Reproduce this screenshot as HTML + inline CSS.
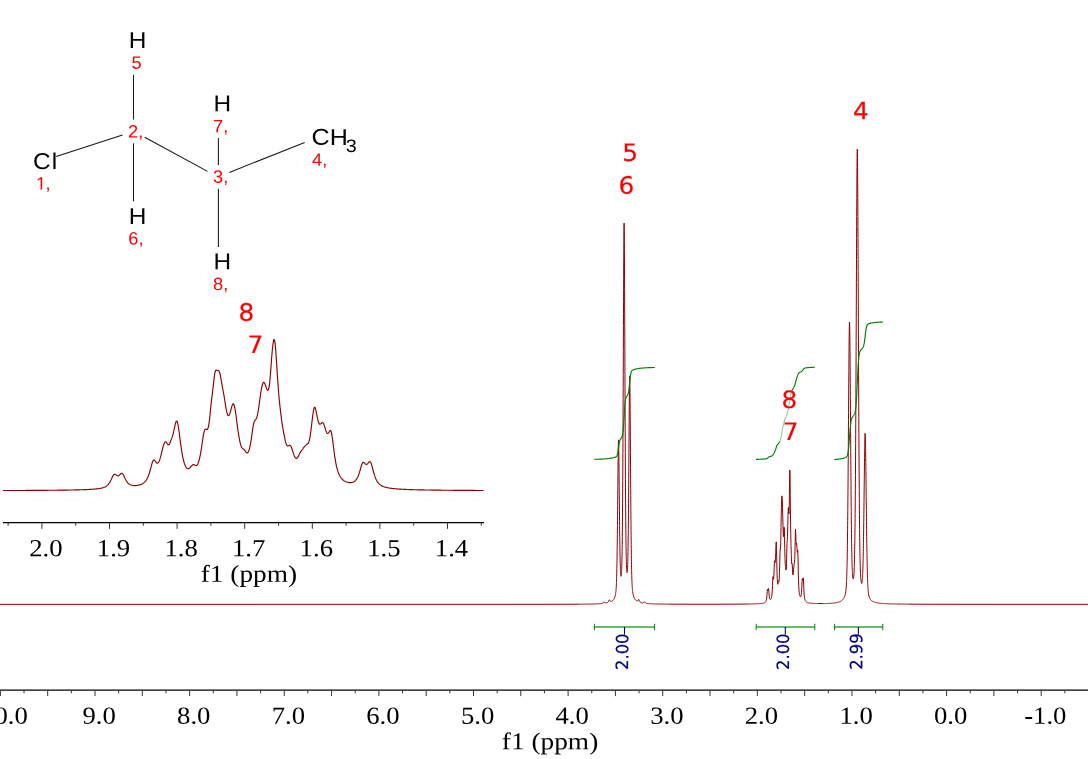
<!DOCTYPE html>
<html lang="en"><head><meta charset="utf-8"><title>1H NMR spectrum - 1-chloropropane</title>
<style>html,body{margin:0;padding:0;background:#fff;overflow:hidden}svg{display:block}text{white-space:pre;text-rendering:geometricPrecision}</style>
</head><body>
<svg width="1088" height="759" viewBox="0 0 1088 759" role="img" aria-label="1H NMR spectrum of 1-chloropropane">
<rect width="1088" height="759" fill="#fff"/>
<g id="structure-bonds" stroke="#161616" stroke-width="1.05" fill="none">
<line x1="56.2" y1="156.4" x2="122.5" y2="134.9"/>
<line x1="133.5" y1="74.8" x2="133.5" y2="119.6"/>
<line x1="133.5" y1="143.3" x2="133.5" y2="201.2"/>
<line x1="144.7" y1="137.2" x2="207.5" y2="171.4"/>
<line x1="218.4" y1="137.9" x2="218.4" y2="165.0"/>
<line x1="218.4" y1="188.7" x2="218.4" y2="247.0"/>
<line x1="229.4" y1="172.4" x2="304.7" y2="142.4"/>
</g>
<g id="inset">
<path d="M3,490.54 3.5,490.54 4,490.54 4.5,490.54 5,490.54 5.5,490.53 6,490.53 6.5,490.53 7,490.53 7.5,490.53 8,490.52 8.5,490.52 9,490.52 9.5,490.52 10,490.52 10.5,490.52 11,490.51 11.5,490.51 12,490.51 12.5,490.51 13,490.5 13.5,490.5 14,490.5 14.5,490.5 15,490.5 15.5,490.49 16,490.49 16.5,490.49 17,490.49 17.5,490.49 18,490.48 18.5,490.48 19,490.48 19.5,490.48 20,490.47 20.5,490.47 21,490.47 21.5,490.47 22,490.46 22.5,490.46 23,490.46 23.5,490.46 24,490.45 24.5,490.45 25,490.45 25.5,490.45 26,490.44 26.5,490.44 27,490.44 27.5,490.44 28,490.43 28.5,490.43 29,490.43 29.5,490.42 30,490.42 30.5,490.42 31,490.42 31.5,490.41 32,490.41 32.5,490.41 33,490.4 33.5,490.4 34,490.4 34.5,490.39 35,490.39 35.5,490.39 36,490.38 36.5,490.38 37,490.38 37.5,490.37 38,490.37 38.5,490.37 39,490.36 39.5,490.36 40,490.36 40.5,490.35 41,490.35 41.5,490.35 42,490.34 42.5,490.34 43,490.33 43.5,490.33 44,490.33 44.5,490.32 45,490.32 45.5,490.31 46,490.31 46.5,490.31 47,490.3 47.5,490.3 48,490.29 48.5,490.29 49,490.28 49.5,490.28 50,490.28 50.5,490.27 51,490.27 51.5,490.26 52,490.26 52.5,490.25 53,490.25 53.5,490.24 54,490.24 54.5,490.23 55,490.23 55.5,490.22 56,490.22 56.5,490.21 57,490.2 57.5,490.2 58,490.19 58.5,490.19 59,490.18 59.5,490.18 60,490.17 60.5,490.16 61,490.16 61.5,490.15 62,490.14 62.5,490.14 63,490.13 63.5,490.12 64,490.12 64.5,490.11 65,490.1 65.5,490.09 66,490.09 66.5,490.08 67,490.07 67.5,490.06 68,490.06 68.5,490.05 69,490.04 69.5,490.03 70,490.02 70.5,490.01 71,490 71.5,489.99 72,489.98 72.5,489.97 73,489.96 73.5,489.95 74,489.94 74.5,489.93 75,489.92 75.5,489.91 76,489.9 76.5,489.89 77,489.88 77.5,489.86 78,489.85 78.5,489.84 79,489.82 79.5,489.81 80,489.8 80.5,489.78 81,489.77 81.5,489.75 82,489.74 82.5,489.72 83,489.7 83.5,489.69 84,489.67 84.5,489.65 85,489.63 85.5,489.61 86,489.59 86.5,489.57 87,489.55 87.5,489.53 88,489.5 88.5,489.48 89,489.45 89.5,489.42 90,489.4 90.5,489.37 91,489.34 91.5,489.31 92,489.27 92.5,489.24 93,489.2 93.5,489.16 94,489.12 94.5,489.08 95,489.04 95.5,488.99 96,488.94 96.5,488.88 97,488.83 97.5,488.77 98,488.7 98.5,488.63 99,488.56 99.5,488.48 100,488.39 100.5,488.29 101,488.19 101.5,488.08 102,487.96 102.5,487.83 103,487.68 103.5,487.52 104,487.33 104.5,487.13 105,486.9 105.5,486.64 106,486.35 106.5,486.01 107,485.63 107.5,485.19 108,484.69 108.5,484.12 109,483.47 109.5,482.73 110,481.9 110.5,480.98 111,479.97 111.5,478.89 112,477.78 112.5,476.71 113,475.74 113.5,474.96 114,474.44 114.5,474.21 115,474.26 115.5,474.51 116,474.87 116.5,475.25 117,475.57 117.5,475.78 118,475.82 118.5,475.7 119,475.42 119.5,475 120,474.5 120.5,473.98 121,473.55 121.5,473.29 122,473.31 122.5,473.63 123,474.26 123.5,475.12 124,476.14 124.5,477.23 125,478.31 125.5,479.33 126,480.27 126.5,481.11 127,481.86 127.5,482.5 128,483.06 128.5,483.54 129,483.94 129.5,484.28 130,484.57 130.5,484.81 131,485.01 131.5,485.17 132,485.3 132.5,485.4 133,485.48 133.5,485.53 134,485.57 134.5,485.59 135,485.59 135.5,485.57 136,485.54 136.5,485.5 137,485.44 137.5,485.37 138,485.28 138.5,485.18 139,485.06 139.5,484.92 140,484.77 140.5,484.6 141,484.4 141.5,484.18 142,483.94 142.5,483.67 143,483.36 143.5,483.01 144,482.63 144.5,482.19 145,481.69 145.5,481.12 146,480.47 146.5,479.73 147,478.89 147.5,477.94 148,476.85 148.5,475.61 149,474.23 149.5,472.68 150,470.98 150.5,469.14 151,467.23 151.5,465.31 152,463.51 152.5,461.97 153,460.82 153.5,460.16 154,460 154.5,460.27 155,460.83 155.5,461.53 156,462.22 156.5,462.77 157,463.12 157.5,463.19 158,462.96 158.5,462.42 159,461.56 159.5,460.38 160,458.91 160.5,457.17 161,455.22 161.5,453.14 162,451.01 162.5,448.94 163,447.02 163.5,445.32 164,443.9 164.5,442.8 165,442.07 165.5,441.78 166,441.93 166.5,442.46 167,443.23 167.5,444.02 168,444.61 168.5,444.85 169,444.62 169.5,443.92 170,442.84 170.5,441.55 171,440.21 171.5,438.91 172,437.63 172.5,436.21 173,434.54 173.5,432.53 174,430.24 174.5,427.79 175,425.38 175.5,423.27 176,421.73 176.5,421 177,421.25 177.5,422.52 178,424.73 178.5,427.72 179,431.23 179.5,435.05 180,438.95 180.5,442.78 181,446.42 181.5,449.8 182,452.88 182.5,455.65 183,458.1 183.5,460.26 184,462.13 184.5,463.73 185,465.09 185.5,466.2 186,467.1 186.5,467.79 187,468.28 187.5,468.58 188,468.69 188.5,468.63 189,468.4 189.5,468.03 190,467.55 190.5,467.01 191,466.45 191.5,465.94 192,465.49 192.5,465.12 193,464.83 193.5,464.66 194,464.67 194.5,464.88 195,465.2 195.5,465.49 196,465.61 196.5,465.49 197,465.09 197.5,464.4 198,463.41 198.5,462.12 199,460.52 199.5,458.6 200,456.36 200.5,453.78 201,450.89 201.5,447.73 202,444.36 202.5,440.91 203,437.57 203.5,434.56 204,432.1 204.5,430.36 205,429.39 205.5,429.1 206,429.25 206.5,429.54 207,429.66 207.5,429.32 208,428.28 208.5,426.36 209,423.46 209.5,419.58 210,414.87 210.5,409.76 211,404.79 211.5,400.33 212,396.31 212.5,392.35 213,388.11 213.5,383.61 214,379.18 214.5,375.31 215,372.43 215.5,370.73 216,370.06 216.5,370.05 217,370.3 217.5,370.49 218,370.57 218.5,370.67 219,371.07 219.5,372.06 220,373.78 220.5,376.17 221,378.99 221.5,381.97 222,384.88 222.5,387.62 223,390.24 223.5,392.87 224,395.66 224.5,398.66 225,401.83 225.5,405.04 226,408.09 226.5,410.78 227,412.97 227.5,414.56 228,415.5 228.5,415.78 229,415.45 229.5,414.55 230,413.19 230.5,411.48 231,409.57 231.5,407.65 232,405.92 232.5,404.6 233,403.87 233.5,403.9 234,404.77 234.5,406.47 235,408.92 235.5,411.99 236,415.49 236.5,419.25 237,423.09 237.5,426.88 238,430.49 238.5,433.87 239,436.95 239.5,439.68 240,442.07 240.5,444.08 241,445.71 241.5,446.97 242,447.87 242.5,448.46 243,448.82 243.5,449.08 244,449.4 244.5,449.9 245,450.59 245.5,451.39 246,452.12 246.5,452.67 247,452.93 247.5,452.84 248,452.38 248.5,451.53 249,450.26 249.5,448.57 250,446.44 250.5,443.87 251,440.89 251.5,437.56 252,434.01 252.5,430.45 253,427.16 253.5,424.42 254,422.4 254.5,421.1 255,420.33 255.5,419.79 256,419.16 256.5,418.19 257,416.73 257.5,414.7 258,412.11 258.5,409.04 259,405.59 259.5,401.93 260,398.24 260.5,394.68 261,391.4 261.5,388.52 262,386.12 262.5,384.26 263,382.99 263.5,382.35 264,382.34 264.5,382.92 265,383.99 265.5,385.39 266,386.93 266.5,388.4 267,389.57 267.5,390.23 268,390.19 268.5,389.27 269,387.28 269.5,384.08 270,379.55 270.5,373.71 271,366.85 271.5,359.76 272,353.43 272.5,348.23 273,344.04 273.5,340.94 274,339.38 274.5,339.86 275,342.6 275.5,347.47 276,353.99 276.5,361.53 277,369.45 277.5,377.23 278,384.5 278.5,391.07 279,396.93 279.5,402.13 280,406.84 280.5,411.21 281,415.34 281.5,419.24 282,422.86 282.5,426.15 283,429.08 283.5,431.78 284,434.39 284.5,436.98 285,439.46 285.5,441.67 286,443.45 286.5,444.74 287,445.54 287.5,445.92 288,445.96 288.5,445.77 289,445.5 289.5,445.29 290,445.31 290.5,445.67 291,446.42 291.5,447.54 292,448.96 292.5,450.55 293,452.19 293.5,453.75 294,455.16 294.5,456.36 295,457.29 295.5,457.95 296,458.32 296.5,458.39 297,458.17 297.5,457.67 298,456.93 298.5,455.99 299,454.92 299.5,453.82 300,452.78 300.5,451.89 301,451.17 301.5,450.58 302,450.03 302.5,449.42 303,448.71 303.5,447.92 304,447.16 304.5,446.53 305,446.04 305.5,445.6 306,445.1 306.5,444.56 307,444.13 307.5,443.87 308,443.56 308.5,442.89 309,441.62 309.5,439.68 310,437.08 310.5,433.85 311,430.11 311.5,425.98 312,421.65 312.5,417.39 313,413.51 313.5,410.33 314,408.16 314.5,407.18 315,407.42 315.5,408.71 316,410.79 316.5,413.31 317,415.96 317.5,418.45 318,420.6 318.5,422.28 319,423.45 319.5,424.09 320,424.27 320.5,424.08 321,423.65 321.5,423.14 322,422.72 322.5,422.57 323,422.81 323.5,423.51 324,424.63 324.5,426.1 325,427.76 325.5,429.45 326,430.99 326.5,432.24 327,433.1 327.5,433.49 328,433.41 328.5,432.91 329,432.1 329.5,431.22 330,430.55 330.5,430.44 331,431.19 331.5,432.94 332,435.65 332.5,439.12 333,443.03 333.5,447.08 334,451.04 334.5,454.76 335,458.16 335.5,461.2 336,463.9 336.5,466.27 337,468.34 337.5,470.15 338,471.72 338.5,473.1 339,474.29 339.5,475.34 340,476.26 340.5,477.07 341,477.79 341.5,478.42 342,478.99 342.5,479.49 343,479.94 343.5,480.34 344,480.7 344.5,481.02 345,481.31 345.5,481.56 346,481.79 346.5,481.99 347,482.16 347.5,482.3 348,482.42 348.5,482.52 349,482.59 349.5,482.64 350,482.66 350.5,482.66 351,482.62 351.5,482.56 352,482.46 352.5,482.33 353,482.16 353.5,481.94 354,481.67 354.5,481.33 355,480.93 355.5,480.45 356,479.88 356.5,479.2 357,478.41 357.5,477.48 358,476.41 358.5,475.18 359,473.79 359.5,472.24 360,470.56 360.5,468.8 361,467.03 361.5,465.38 362,463.98 362.5,462.96 363,462.4 363.5,462.29 364,462.56 364.5,463.04 365,463.59 365.5,464.06 366,464.36 366.5,464.43 367,464.24 367.5,463.82 368,463.24 368.5,462.58 369,461.99 369.5,461.63 370,461.63 370.5,462.1 371,463.04 371.5,464.42 372,466.11 372.5,467.98 373,469.9 373.5,471.77 374,473.54 374.5,475.17 375,476.65 375.5,477.97 376,479.14 376.5,480.17 377,481.08 377.5,481.87 378,482.57 378.5,483.19 379,483.73 379.5,484.2 380,484.63 380.5,485 381,485.34 381.5,485.63 382,485.9 382.5,486.15 383,486.37 383.5,486.57 384,486.76 384.5,486.93 385,487.08 385.5,487.23 386,487.36 386.5,487.49 387,487.6 387.5,487.71 388,487.81 388.5,487.91 389,487.99 389.5,488.08 390,488.16 390.5,488.23 391,488.3 391.5,488.37 392,488.43 392.5,488.49 393,488.55 393.5,488.6 394,488.66 394.5,488.71 395,488.75 395.5,488.8 396,488.84 396.5,488.88 397,488.92 397.5,488.96 398,489 398.5,489.03 399,489.07 399.5,489.1 400,489.13 400.5,489.16 401,489.19 401.5,489.22 402,489.25 402.5,489.27 403,489.3 403.5,489.32 404,489.35 404.5,489.37 405,489.4 405.5,489.42 406,489.44 406.5,489.46 407,489.48 407.5,489.5 408,489.52 408.5,489.54 409,489.55 409.5,489.57 410,489.59 410.5,489.61 411,489.62 411.5,489.64 412,489.65 412.5,489.67 413,489.68 413.5,489.7 414,489.71 414.5,489.73 415,489.74 415.5,489.75 416,489.77 416.5,489.78 417,489.79 417.5,489.8 418,489.82 418.5,489.83 419,489.84 419.5,489.85 420,489.86 420.5,489.87 421,489.88 421.5,489.89 422,489.9 422.5,489.91 423,489.92 423.5,489.93 424,489.94 424.5,489.95 425,489.96 425.5,489.97 426,489.98 426.5,489.99 427,489.99 427.5,490 428,490.01 428.5,490.02 429,490.03 429.5,490.04 430,490.04 430.5,490.05 431,490.06 431.5,490.07 432,490.07 432.5,490.08 433,490.09 433.5,490.09 434,490.1 434.5,490.11 435,490.11 435.5,490.12 436,490.13 436.5,490.13 437,490.14 437.5,490.14 438,490.15 438.5,490.16 439,490.16 439.5,490.17 440,490.17 440.5,490.18 441,490.19 441.5,490.19 442,490.2 442.5,490.2 443,490.21 443.5,490.21 444,490.22 444.5,490.22 445,490.23 445.5,490.23 446,490.24 446.5,490.24 447,490.25 447.5,490.25 448,490.26 448.5,490.26 449,490.27 449.5,490.27 450,490.27 450.5,490.28 451,490.28 451.5,490.29 452,490.29 452.5,490.3 453,490.3 453.5,490.3 454,490.31 454.5,490.31 455,490.32 455.5,490.32 456,490.32 456.5,490.33 457,490.33 457.5,490.33 458,490.34 458.5,490.34 459,490.35 459.5,490.35 460,490.35 460.5,490.36 461,490.36 461.5,490.36 462,490.37 462.5,490.37 463,490.37 463.5,490.38 464,490.38 464.5,490.38 465,490.39 465.5,490.39 466,490.39 466.5,490.39 467,490.4 467.5,490.4 468,490.4 468.5,490.41 469,490.41 469.5,490.41 470,490.42 470.5,490.42 471,490.42 471.5,490.42 472,490.43 472.5,490.43 473,490.43 473.5,490.43 474,490.44 474.5,490.44 475,490.44 475.5,490.45 476,490.45 476.5,490.45 477,490.45 477.5,490.46 478,490.46 478.5,490.46 479,490.46 479.5,490.47 480,490.47 480.5,490.47 481,490.47 481.5,490.47 482,490.48 482.5,490.48 483,490.48 483.5,490.48" fill="none" stroke="#8b0000" stroke-width="1.15" stroke-linejoin="round"/>
<line x1="2.9" y1="522.5" x2="484" y2="522.5" stroke="#000" stroke-width="1.25"/>
<path d="M8.10,522.5v3.2M41.90,522.5v6.3M75.70,522.5v3.2M109.50,522.5v6.3M143.30,522.5v3.2M177.10,522.5v6.3M210.90,522.5v3.2M244.70,522.5v6.3M278.50,522.5v3.2M312.30,522.5v6.3M346.10,522.5v3.2M379.90,522.5v6.3M413.70,522.5v3.2M447.50,522.5v6.3M481.30,522.5v3.2" stroke="#333" stroke-width="1" fill="none"/>
</g>
<g id="spectrum">
<path d="M0,604.35 8,604.35 16,604.35 24,604.35 32,604.35 40,604.35 48,604.35 56,604.35 64,604.35 72,604.35 80,604.35 88,604.35 96,604.35 104,604.35 112,604.35 120,604.35 128,604.35 136,604.35 144,604.35 152,604.35 160,604.35 168,604.35 176,604.35 184,604.35 192,604.35 200,604.35 208,604.35 216,604.35 224,604.35 232,604.35 240,604.35 248,604.35 256,604.34 264,604.34 272,604.34 280,604.34 288,604.34 296,604.34 304,604.34 312,604.34 320,604.34 328,604.34 336,604.34 344,604.34 352,604.34 360,604.34 368,604.34 376,604.34 384,604.34 392,604.34 400,604.34 408,604.34 416,604.34 424,604.34 432,604.34 440,604.33 448,604.33 456,604.33 464,604.33 472,604.33 480,604.33 488,604.32 496,604.32 504,604.32 512,604.31 520,604.31 528,604.3 536,604.3 544,604.29 552,604.27 560,604.26 568,604.23 576,604.19 579.5,604.16 580,604.16 580.5,604.16 581,604.15 581.5,604.15 582,604.14 582.5,604.14 583,604.13 583.5,604.13 584,604.12 584.5,604.12 585,604.11 585.5,604.1 586,604.1 586.5,604.09 587,604.08 587.5,604.08 588,604.07 588.5,604.06 589,604.05 589.5,604.04 590,604.04 590.5,604.03 591,604.02 591.5,604.01 592,603.99 592.5,603.98 593,603.97 593.5,603.96 594,603.94 594.5,603.93 595,603.91 595.25,603.91 595.5,603.9 595.75,603.89 596,603.88 596.25,603.87 596.5,603.86 596.75,603.85 597,603.84 597.25,603.83 597.5,603.82 597.75,603.81 598,603.79 598.25,603.78 598.5,603.77 598.75,603.75 599,603.74 599.25,603.72 599.5,603.71 599.75,603.69 600,603.67 600.25,603.65 600.5,603.62 600.75,603.6 601,603.57 601.25,603.54 601.5,603.5 601.75,603.45 602,603.39 602.25,603.32 602.5,603.22 602.75,603.09 603,602.9 603.25,602.62 603.5,602.24 603.75,601.89 604,601.83 604.25,602.09 604.5,602.41 604.75,602.65 605,602.8 605.25,602.89 605.5,602.93 605.75,602.94 606,602.93 606.25,602.9 606.5,602.86 606.75,602.81 607,602.74 607.25,602.65 607.5,602.54 607.75,602.39 608,602.18 608.25,601.9 608.5,601.49 608.75,600.92 609,600.22 609.25,599.73 609.5,599.85 609.75,600.38 610,600.88 610.25,601.2 610.5,601.37 610.75,601.45 611,601.45 611.25,601.41 611.5,601.33 611.75,601.23 612,601.09 612.25,600.94 612.5,600.75 612.75,600.55 613,600.31 613.25,600.04 613.5,599.73 613.75,599.38 614,598.97 614.25,598.51 614.5,597.97 614.75,597.33 615,596.57 615.25,595.64 615.5,594.45 615.55,594.16 615.6,593.86 615.65,593.54 615.7,593.2 615.75,592.83 615.8,592.44 615.85,592.01 615.9,591.55 615.95,591.04 616,590.5 616.05,589.91 616.1,589.26 616.15,588.56 616.2,587.79 616.25,586.95 616.3,586.03 616.35,585.03 616.4,583.93 616.45,582.73 616.5,581.42 616.55,579.99 616.6,578.44 616.65,576.75 616.7,574.91 616.75,572.91 616.8,570.76 616.85,568.43 616.9,565.93 616.95,563.24 617,560.35 617.05,557.27 617.1,554 617.15,550.52 617.2,546.83 617.25,542.95 617.3,538.86 617.35,534.58 617.4,530.12 617.45,525.48 617.5,520.68 617.55,515.72 617.6,510.64 617.65,505.46 617.7,500.19 617.75,494.87 617.8,489.53 617.85,484.21 617.9,478.96 617.95,473.81 618,468.82 618.05,464.04 618.1,459.53 618.15,455.35 618.2,451.56 618.25,448.21 618.3,445.37 618.35,443.08 618.4,441.39 618.45,440.32 618.5,439.9 618.55,440.13 618.6,441.01 618.65,442.51 618.7,444.61 618.75,447.26 618.8,450.41 618.85,454.01 618.9,457.99 618.95,462.31 619,466.89 619.05,471.68 619.1,476.63 619.15,481.68 619.2,486.79 619.25,491.92 619.3,497.03 619.35,502.09 619.4,507.06 619.45,511.92 619.5,516.65 619.55,521.23 619.6,525.64 619.65,529.87 619.7,533.91 619.75,537.75 619.8,541.39 619.85,544.82 619.9,548.04 619.95,551.05 620,553.86 620.05,556.47 620.1,558.87 620.15,561.09 620.2,563.12 620.25,564.96 620.3,566.64 620.35,568.15 620.4,569.51 620.45,570.72 620.5,571.79 620.55,572.72 620.6,573.54 620.65,574.24 620.7,574.83 620.75,575.31 620.8,575.7 620.85,576 620.9,576.21 620.95,576.33 621,576.38 621.05,576.35 621.1,576.24 621.15,576.05 621.2,575.79 621.25,575.44 621.3,575.02 621.35,574.52 621.4,573.93 621.45,573.24 621.5,572.46 621.55,571.57 621.6,570.56 621.65,569.43 621.7,568.16 621.75,566.74 621.8,565.16 621.85,563.4 621.9,561.45 621.95,559.29 622,556.91 622.05,554.27 622.1,551.37 622.15,548.19 622.2,544.7 622.25,540.88 622.3,536.71 622.35,532.17 622.4,527.24 622.45,521.91 622.5,516.15 622.55,509.94 622.6,503.29 622.65,496.16 622.7,488.56 622.75,480.48 622.8,471.91 622.85,462.87 622.9,453.35 622.95,443.38 623,432.96 623.05,422.12 623.1,410.9 623.15,399.33 623.2,387.45 623.25,375.32 623.3,363 623.35,350.55 623.4,338.07 623.45,325.63 623.5,313.34 623.55,301.31 623.6,289.65 623.65,278.5 623.7,267.99 623.75,258.26 623.8,249.45 623.85,241.71 623.9,235.17 623.95,229.94 624,226.12 624.05,223.79 624.1,223 624.15,223.76 624.2,226.06 624.25,229.85 624.3,235.05 624.35,241.56 624.4,249.27 624.45,258.04 624.5,267.74 624.55,278.22 624.6,289.34 624.65,300.97 624.7,312.97 624.75,325.23 624.8,337.63 624.85,350.09 624.9,362.5 624.95,374.78 625,386.88 625.05,398.72 625.1,410.26 625.15,421.45 625.2,432.24 625.25,442.63 625.3,452.56 625.35,462.04 625.4,471.04 625.45,479.57 625.5,487.61 625.55,495.17 625.6,502.25 625.65,508.86 625.7,515.02 625.75,520.73 625.8,526.02 625.85,530.89 625.9,535.38 625.95,539.5 626,543.26 626.05,546.7 626.1,549.82 626.15,552.66 626.2,555.23 626.25,557.55 626.3,559.65 626.35,561.52 626.4,563.21 626.45,564.71 626.5,566.05 626.55,567.23 626.6,568.27 626.65,569.18 626.7,569.97 626.75,570.65 626.8,571.22 626.85,571.69 626.9,572.06 626.95,572.34 627,572.53 627.05,572.63 627.1,572.64 627.15,572.55 627.2,572.38 627.25,572.1 627.3,571.72 627.35,571.24 627.4,570.64 627.45,569.92 627.5,569.08 627.55,568.09 627.6,566.96 627.65,565.67 627.7,564.22 627.75,562.58 627.8,560.75 627.85,558.73 627.9,556.48 627.95,554.01 628,551.31 628.05,548.35 628.1,545.14 628.15,541.66 628.2,537.9 628.25,533.86 628.3,529.54 628.35,524.92 628.4,520.02 628.45,514.83 628.5,509.35 628.55,503.6 628.6,497.58 628.65,491.31 628.7,484.81 628.75,478.09 628.8,471.2 628.85,464.15 628.9,456.98 628.95,449.74 629,442.47 629.05,435.23 629.1,428.08 629.15,421.07 629.2,414.28 629.25,407.79 629.3,401.68 629.35,396.03 629.4,390.93 629.45,386.46 629.5,382.69 629.55,379.7 629.6,377.54 629.65,376.27 629.7,375.9 629.75,376.45 629.8,377.91 629.85,380.26 629.9,383.44 629.95,387.39 630,392.06 630.05,397.35 630.1,403.19 630.15,409.49 630.2,416.17 630.25,423.15 630.3,430.36 630.35,437.71 630.4,445.16 630.45,452.63 630.5,460.07 630.55,467.45 630.6,474.71 630.65,481.82 630.7,488.75 630.75,495.47 630.8,501.97 630.85,508.22 630.9,514.2 630.95,519.92 631,525.36 631.05,530.51 631.1,535.38 631.15,539.96 631.2,544.27 631.25,548.3 631.3,552.06 631.35,555.56 631.4,558.81 631.45,561.82 631.5,564.6 631.55,567.16 631.6,569.52 631.65,571.69 631.7,573.68 631.75,575.5 631.8,577.17 631.85,578.7 631.9,580.09 631.95,581.36 632,582.53 632.05,583.59 632.1,584.57 632.15,585.46 632.2,586.27 632.25,587.02 632.3,587.71 632.35,588.35 632.4,588.94 632.45,589.48 632.5,589.98 632.55,590.45 632.6,590.89 632.65,591.3 632.7,591.68 632.75,592.04 633,593.57 633.25,594.77 633.5,595.75 633.75,596.57 634,597.27 634.25,597.86 634.5,598.38 634.75,598.82 635,599.21 635.25,599.55 635.5,599.85 635.75,600.11 636,600.34 636.25,600.53 636.5,600.69 636.75,600.82 637,600.91 637.25,600.94 637.5,600.9 637.75,600.76 638,600.47 638.25,600 638.5,599.49 638.75,599.39 639,599.9 639.25,600.62 639.5,601.21 639.75,601.64 640,601.94 640.25,602.15 640.5,602.32 640.75,602.44 641,602.55 641.25,602.63 641.5,602.7 641.75,602.76 642,602.8 642.25,602.83 642.5,602.85 642.75,602.85 643,602.83 643.25,602.78 643.5,602.68 643.75,602.49 644,602.21 644.25,601.89 644.5,601.74 644.75,601.95 645,602.33 645.25,602.67 645.5,602.92 645.75,603.09 646,603.21 646.25,603.29 646.5,603.36 646.75,603.41 647,603.46 647.25,603.49 647.5,603.53 647.75,603.56 648,603.58 648.25,603.61 648.5,603.63 648.75,603.65 649,603.67 649.25,603.68 649.5,603.7 649.75,603.71 650,603.73 650.25,603.74 650.5,603.76 650.75,603.77 651,603.78 651.25,603.79 651.5,603.81 651.75,603.82 652,603.83 652.25,603.84 652.5,603.85 652.75,603.86 653,603.86 653.25,603.87 653.5,603.88 653.75,603.89 654,603.9 654.25,603.91 654.5,603.91 654.75,603.92 655,603.93 655.5,603.94 656,603.95 656.5,603.97 657,603.98 657.5,603.99 658,604 658.5,604.01 659,604.02 659.5,604.03 660,604.03 660.5,604.04 661,604.05 661.5,604.06 662,604.06 662.5,604.07 663,604.08 663.5,604.08 664,604.09 664.5,604.09 665,604.1 665.5,604.11 666,604.11 666.5,604.11 667,604.12 667.5,604.12 668,604.13 668.5,604.13 672,604.16 680,604.19 688,604.21 696,604.22 704,604.23 712,604.22 720,604.21 728,604.19 736,604.15 744,604.09 748.5,604.03 748.75,604.02 749,604.02 749.25,604.02 749.5,604.01 749.75,604.01 750,604 750.25,604 750.5,603.99 750.75,603.99 751,603.98 751.25,603.98 751.5,603.97 751.75,603.97 752,603.96 752.25,603.95 752.5,603.95 752.75,603.94 753,603.94 753.25,603.93 753.5,603.92 753.75,603.92 754,603.91 754.25,603.9 754.5,603.89 754.75,603.88 755,603.88 755.25,603.87 755.5,603.86 755.75,603.85 756,603.84 756.25,603.83 756.5,603.82 756.75,603.81 757,603.8 757.25,603.78 757.5,603.77 757.75,603.76 758,603.75 758.25,603.73 758.5,603.72 758.75,603.7 759,603.69 759.25,603.67 759.5,603.65 759.75,603.63 760,603.61 760.25,603.59 760.5,603.57 760.75,603.54 761,603.52 761.25,603.49 761.5,603.46 761.75,603.43 762,603.39 762.25,603.36 762.5,603.32 762.75,603.27 763,603.22 763.25,603.17 763.5,603.1 763.75,603.03 764,602.95 764.25,602.86 764.5,602.75 764.75,602.61 765,602.45 765.25,602.25 765.5,601.99 765.75,601.64 766,601.15 766.25,600.42 766.5,599.28 766.75,597.45 767,594.63 767.25,591.18 767.5,589.31 767.75,590.09 768,590.75 768.25,589.71 768.5,588.46 768.75,589.98 769,593.36 769.25,596.14 769.5,597.87 769.75,598.83 770,599.31 770.25,599.49 770.5,599.47 770.75,599.27 771,598.91 771.25,598.33 771.5,597.47 771.75,596.14 772,594.06 772.25,590.74 772.5,585.72 772.75,579.72 773,576.57 773.25,578.02 773.5,579.42 773.75,577.69 774,572.54 774.25,565.89 774.5,561.13 774.75,560.59 775,562.81 775.25,561.48 775.5,557.32 775.75,552.2 776,544.65 776.25,541.81 776.5,549.36 776.75,561.59 777,571.97 777.25,578.9 777.5,582.82 777.75,584.3 778,583.75 778.25,582.06 778.5,580.85 778.75,581.13 779,581.39 779.25,578.62 779.5,572.3 779.75,562.49 780,552.37 780.25,548.84 780.5,549.17 780.75,542.83 781,527.59 781.25,514.24 781.5,500.56 781.75,495.85 782,496.36 782.25,498.76 782.5,507.38 782.75,516.06 783,525.68 783.25,534.41 783.5,536.78 783.75,532.76 784,527.13 784.25,527.41 784.5,536.24 784.75,548.33 785,558.38 785.25,564.43 785.5,566.55 785.75,567.92 786,570.06 786.25,569.03 786.5,563.36 786.75,553.12 787,543.45 787.25,540.39 787.5,536.41 787.75,526.71 788,515.32 788.25,508.01 788.5,507.44 788.75,511.83 789,513.84 789.25,505.51 789.5,484.69 789.75,469.99 790,473.09 790.25,495.63 790.5,518.01 790.75,533.48 791,545.48 791.25,554.32 791.5,561.54 791.75,563.94 792,563.32 792.25,564.92 792.5,569.78 792.75,573.9 793,575.02 793.25,572.99 793.5,569.63 793.75,567.53 794,565.23 794.25,563.5 794.5,562.09 794.75,559.5 795,550 795.25,536.54 795.5,529.12 795.75,533.77 796,541.51 796.25,544.46 796.5,543.29 796.75,543.7 797,548.33 797.25,552.4 797.5,551.76 797.75,550.05 798,557.03 798.25,569.65 798.5,579.8 798.75,586.3 799,590.29 799.25,592.8 799.5,594.43 799.75,595.53 800,596.24 800.25,596.66 800.5,596.79 800.75,596.6 801,595.98 801.25,594.7 801.5,592.32 801.75,588.34 802,582.86 802.25,578.8 802.5,579.22 802.75,580.43 803,579.23 803.25,577.88 803.5,580.95 803.75,586.91 804,592 804.25,595.41 804.5,597.56 804.75,598.93 805,599.84 805.25,600.48 805.5,600.96 805.75,601.32 806,601.61 806.25,601.85 806.5,602.04 806.75,602.2 807,602.33 807.25,602.45 807.5,602.55 807.75,602.64 808,602.72 808.25,602.79 808.5,602.85 808.75,602.91 809,602.96 809.25,603.01 809.5,603.05 809.75,603.09 810,603.13 810.25,603.16 810.5,603.19 810.75,603.22 811,603.25 811.25,603.27 811.5,603.3 811.75,603.32 812,603.34 812.25,603.36 812.5,603.37 812.75,603.39 813,603.41 813.25,603.42 813.5,603.44 813.75,603.45 814,603.46 814.25,603.47 814.5,603.48 814.75,603.49 815,603.5 815.25,603.51 815.5,603.52 815.75,603.53 816,603.53 816.25,603.54 816.5,603.54 816.75,603.55 817,603.56 817.25,603.56 817.5,603.56 823.5,603.56 823.75,603.56 824,603.55 824.25,603.55 824.5,603.55 824.75,603.54 825,603.53 825.25,603.53 825.5,603.52 825.75,603.51 826,603.51 826.25,603.5 826.5,603.49 826.75,603.48 827,603.48 827.25,603.47 827.5,603.46 827.75,603.45 828,603.44 828.25,603.43 828.5,603.41 828.75,603.4 829,603.39 829.25,603.38 829.5,603.36 829.75,603.35 830,603.33 830.25,603.32 830.5,603.3 830.75,603.29 831,603.27 831.25,603.25 831.5,603.23 831.75,603.21 832,603.19 832.25,603.17 832.5,603.15 832.75,603.12 833,603.1 833.25,603.07 833.5,603.04 833.75,603.02 834,602.99 834.25,602.96 834.5,602.92 834.75,602.89 835,602.85 835.25,602.82 835.5,602.78 835.75,602.74 836,602.69 836.25,602.65 836.5,602.6 836.75,602.55 837,602.5 837.25,602.44 837.5,602.38 837.75,602.32 838,602.26 838.25,602.19 838.5,602.11 838.75,602.03 839,601.95 839.25,601.86 839.5,601.76 839.75,601.66 840,601.55 840.25,601.44 840.5,601.31 840.75,601.18 841,601.03 841.25,600.87 841.5,600.7 841.75,600.52 842,600.32 842.25,600.1 842.5,599.86 842.75,599.59 843,599.3 843.25,598.98 843.5,598.62 843.75,598.22 844,597.77 844.25,597.27 844.5,596.69 844.75,596.03 845,595.26 845.25,594.34 845.5,593.2 845.75,591.72 846,589.71 846.25,586.86 846.5,582.72 846.55,581.68 846.6,580.56 846.65,579.35 846.7,578.04 846.75,576.63 846.8,575.11 846.85,573.47 846.9,571.71 846.95,569.81 847,567.78 847.05,565.59 847.1,563.25 847.15,560.75 847.2,558.07 847.25,555.22 847.3,552.18 847.35,548.95 847.4,545.53 847.45,541.89 847.5,538.05 847.55,534 847.6,529.74 847.65,525.25 847.7,520.54 847.75,515.62 847.8,510.47 847.85,505.11 847.9,499.54 847.95,493.76 848,487.77 848.05,481.6 848.1,475.24 848.15,468.71 848.2,462.03 848.25,455.2 848.3,448.24 848.35,441.19 848.4,434.04 848.45,426.84 848.5,419.61 848.55,412.36 848.6,405.14 848.65,397.97 848.7,390.9 848.75,383.94 848.8,377.15 848.85,370.57 848.9,364.22 848.95,358.17 849,352.44 849.05,347.08 849.1,342.15 849.15,337.66 849.2,333.68 849.25,330.23 849.3,327.35 849.35,325.07 849.4,323.4 849.45,322.38 849.5,322 849.55,322.27 849.6,323.19 849.65,324.75 849.7,326.93 849.75,329.71 849.8,333.05 849.85,336.93 849.9,341.3 849.95,346.13 850,351.38 850.05,357 850.1,362.95 850.15,369.19 850.2,375.66 850.25,382.34 850.3,389.19 850.35,396.15 850.4,403.21 850.45,410.31 850.5,417.44 850.55,424.57 850.6,431.65 850.65,438.68 850.7,445.62 850.75,452.45 850.8,459.16 850.85,465.72 850.9,472.13 850.95,478.36 851,484.41 851.05,490.26 851.1,495.91 851.15,501.36 851.2,506.58 851.25,511.59 851.3,516.38 851.35,520.95 851.4,525.29 851.45,529.41 851.5,533.32 851.55,537.01 851.6,540.49 851.65,543.76 851.7,546.84 851.75,549.71 851.8,552.4 851.85,554.91 851.9,557.24 851.95,559.41 852,561.42 852.05,563.27 852.1,564.99 852.15,566.56 852.2,568 852.25,569.33 852.3,570.54 852.35,571.64 852.4,572.63 852.45,573.54 852.5,574.35 852.75,577.27 853,578.68 853.25,578.93 853.5,578.15 853.75,576.27 854,572.94 854.25,567.53 854.3,566.12 854.35,564.59 854.4,562.91 854.45,561.09 854.5,559.1 854.55,556.95 854.6,554.61 854.65,552.08 854.7,549.35 854.75,546.4 854.8,543.21 854.85,539.79 854.9,536.11 854.95,532.16 855,527.93 855.05,523.42 855.1,518.59 855.15,513.46 855.2,508 855.25,502.21 855.3,496.08 855.35,489.61 855.4,482.78 855.45,475.6 855.5,468.06 855.55,460.16 855.6,451.91 855.65,443.3 855.7,434.34 855.75,425.05 855.8,415.43 855.85,405.5 855.9,395.27 855.95,384.76 856,373.99 856.05,363 856.1,351.8 856.15,340.43 856.2,328.92 856.25,317.32 856.3,305.66 856.35,293.98 856.4,282.35 856.45,270.8 856.5,259.4 856.55,248.2 856.6,237.26 856.65,226.65 856.7,216.44 856.75,206.7 856.8,197.49 856.85,188.88 856.9,180.96 856.95,173.77 857,167.4 857.05,161.89 857.1,157.31 857.15,153.69 857.2,151.09 857.25,149.52 857.3,149 857.35,149.54 857.4,151.14 857.45,153.77 857.5,157.41 857.55,162.02 857.6,167.55 857.65,173.95 857.7,181.16 857.75,189.12 857.8,197.75 857.85,206.98 857.9,216.75 857.95,226.99 858,237.62 858.05,248.59 858.1,259.81 858.15,271.25 858.2,282.82 858.25,294.48 858.3,306.19 858.35,317.87 858.4,329.51 858.45,341.04 858.5,352.44 858.55,363.67 858.6,374.7 858.65,385.49 858.7,396.03 858.75,406.29 858.8,416.26 858.85,425.91 858.9,435.23 858.95,444.22 859,452.86 859.05,461.15 859.1,469.08 859.15,476.66 859.2,483.87 859.25,490.74 859.3,497.25 859.35,503.41 859.4,509.24 859.45,514.74 859.5,519.91 859.55,524.77 859.6,529.33 859.65,533.6 859.7,537.59 859.75,541.31 859.8,544.78 859.85,548.01 859.9,551.01 859.95,553.79 860,556.37 860.05,558.75 860.1,560.96 860.15,562.99 860.2,564.87 860.25,566.6 860.3,568.2 860.5,573.39 860.75,577.81 861,580.65 861.25,582.4 861.5,583.32 861.75,583.48 862,582.78 862.15,581.86 862.2,581.45 862.25,580.98 862.3,580.46 862.35,579.87 862.4,579.22 862.45,578.49 862.5,577.7 862.55,576.82 862.6,575.86 862.65,574.81 862.7,573.66 862.75,572.42 862.8,571.08 862.85,569.64 862.9,568.08 862.95,566.41 863,564.62 863.05,562.71 863.1,560.67 863.15,558.51 863.2,556.22 863.25,553.79 863.3,551.24 863.35,548.55 863.4,545.72 863.45,542.76 863.5,539.67 863.55,536.45 863.6,533.1 863.65,529.64 863.7,526.05 863.75,522.35 863.8,518.55 863.85,514.65 863.9,510.67 863.95,506.61 864,502.49 864.05,498.31 864.1,494.1 864.15,489.86 864.2,485.62 864.25,481.39 864.3,477.2 864.35,473.05 864.4,468.98 864.45,465.01 864.5,461.15 864.55,457.44 864.6,453.91 864.65,450.57 864.7,447.45 864.75,444.58 864.8,441.98 864.85,439.68 864.9,437.7 864.95,436.06 865,434.78 865.05,433.87 865.1,433.34 865.15,433.2 865.2,433.45 865.25,434.08 865.3,435.1 865.35,436.49 865.4,438.24 865.45,440.32 865.5,442.73 865.55,445.43 865.6,448.41 865.65,451.64 865.7,455.09 865.75,458.74 865.8,462.56 865.85,466.52 865.9,470.61 865.95,474.79 866,479.05 866.05,483.36 866.1,487.7 866.15,492.06 866.2,496.41 866.25,500.74 866.3,505.03 866.35,509.28 866.4,513.46 866.45,517.57 866.5,521.59 866.55,525.51 866.6,529.34 866.65,533.05 866.7,536.65 866.75,540.13 866.8,543.48 866.85,546.7 866.9,549.8 866.95,552.76 867,555.6 867.05,558.3 867.1,560.87 867.15,563.31 867.2,565.62 867.25,567.81 867.3,569.87 867.35,571.82 867.4,573.65 867.45,575.37 867.5,576.98 867.55,578.49 867.6,579.91 867.65,581.22 867.7,582.46 867.75,583.6 867.8,584.67 867.85,585.66 867.9,586.58 867.95,587.43 868,588.23 868.05,588.96 868.1,589.64 868.15,590.28 868.25,591.4 868.5,593.58 868.75,595.1 869,596.2 869.25,597.03 869.5,597.69 869.75,598.23 870,598.7 870.25,599.1 870.5,599.45 870.75,599.77 871,600.05 871.25,600.3 871.5,600.53 871.75,600.74 872,600.93 872.25,601.1 872.5,601.26 872.75,601.41 873,601.54 873.25,601.66 873.5,601.78 873.75,601.89 874,601.99 874.25,602.08 874.5,602.17 874.75,602.25 875,602.32 875.25,602.4 875.5,602.46 875.75,602.53 876,602.59 876.25,602.65 876.5,602.7 876.75,602.75 877,602.8 877.25,602.85 877.5,602.89 877.75,602.93 878,602.97 878.25,603.01 878.5,603.05 878.75,603.08 879,603.12 879.25,603.15 879.5,603.18 879.75,603.21 880,603.24 880.25,603.26 880.5,603.29 880.75,603.31 881,603.34 881.25,603.36 881.5,603.38 881.75,603.4 882,603.43 882.25,603.45 882.5,603.46 882.75,603.48 883,603.5 883.25,603.52 883.5,603.54 883.75,603.55 884,603.57 884.25,603.58 884.5,603.6 884.75,603.61 885,603.63 885.25,603.64 885.5,603.65 885.75,603.67 886,603.68 886.25,603.69 886.5,603.7 886.75,603.71 887,603.72 887.25,603.73 887.5,603.74 887.75,603.76 888,603.76 888.25,603.77 888.5,603.78 888.75,603.79 889,603.8 889.25,603.81 889.5,603.82 889.75,603.83 890,603.84 890.25,603.84 890.5,603.85 890.75,603.86 891,603.87 891.25,603.87 891.5,603.88 891.75,603.89 892,603.89 892.25,603.9 892.5,603.91 892.75,603.91 893,603.92 893.25,603.92 893.5,603.93 893.75,603.94 894,603.94 894.25,603.95 894.5,603.95 894.75,603.96 895,603.96 895.25,603.97 895.5,603.97 895.75,603.98 896,603.98 896.25,603.99 896.5,603.99 896.75,603.99 897,604 897.25,604 897.5,604.01 897.75,604.01 898,604.02 900,604.05 900.5,604.05 901,604.06 901.5,604.06 902,604.07 902.5,604.08 903,604.08 903.5,604.09 904,604.09 904.5,604.1 905,604.1 905.5,604.11 906,604.11 906.5,604.12 907,604.12 907.5,604.13 908,604.13 908.5,604.13 912,604.16 920,604.2 928,604.23 936,604.25 944,604.27 952,604.28 960,604.29 968,604.3 976,604.3 984,604.31 992,604.31 1000,604.32 1008,604.32 1016,604.32 1024,604.32 1032,604.33 1040,604.33 1048,604.33 1056,604.33 1064,604.33 1072,604.33 1080,604.33 1088,604.34" fill="none" stroke="#8b0000" stroke-width="1" stroke-linejoin="round"/>
<line x1="0" y1="690.2" x2="1088" y2="690.2" stroke="#000" stroke-width="1.3"/>
<path d="M0.38,690.2v5.9M24.03,690.2v3.1M47.69,690.2v5.9M71.34,690.2v3.1M95.00,690.2v5.9M118.66,690.2v3.1M142.31,690.2v5.9M165.97,690.2v3.1M189.62,690.2v5.9M213.28,690.2v3.1M236.93,690.2v5.9M260.59,690.2v3.1M284.24,690.2v5.9M307.89,690.2v3.1M331.55,690.2v5.9M355.21,690.2v3.1M378.86,690.2v5.9M402.51,690.2v3.1M426.17,690.2v5.9M449.83,690.2v3.1M473.48,690.2v5.9M497.13,690.2v3.1M520.79,690.2v5.9M544.45,690.2v3.1M568.10,690.2v5.9M591.75,690.2v3.1M615.41,690.2v5.9M639.07,690.2v3.1M662.72,690.2v5.9M686.38,690.2v3.1M710.03,690.2v5.9M733.69,690.2v3.1M757.34,690.2v5.9M781.00,690.2v3.1M804.65,690.2v5.9M828.31,690.2v3.1M851.96,690.2v5.9M875.62,690.2v3.1M899.27,690.2v5.9M922.93,690.2v3.1M946.58,690.2v5.9M970.24,690.2v3.1M993.89,690.2v5.9M1017.55,690.2v3.1M1041.20,690.2v5.9M1064.86,690.2v3.1" stroke="#333" stroke-width="1" fill="none"/>
</g>
<g id="integrals" fill="none">
<path d="M594.1,459.3 594.35,459.3 594.6,459.29 594.85,459.29 595.1,459.28 595.35,459.27 595.6,459.27 595.85,459.26 596.1,459.26 596.35,459.25 596.6,459.25 596.85,459.24 597.1,459.24 597.35,459.23 597.6,459.22 597.85,459.22 598.1,459.21 598.35,459.2 598.6,459.2 598.85,459.19 599.1,459.18 599.35,459.17 599.6,459.17 599.85,459.16 600.1,459.15 600.35,459.14 600.6,459.13 600.85,459.13 601.1,459.12 601.35,459.11 601.6,459.1 601.85,459.09 602.1,459.08 602.35,459.06 602.6,459.05 602.85,459.04 603.1,459.02 603.35,459 603.6,458.97 603.85,458.95 604.1,458.92 604.35,458.89 604.6,458.87 604.85,458.85 605.1,458.83 605.35,458.81 605.6,458.79 605.85,458.78 606.1,458.76 606.35,458.74 606.6,458.72 606.85,458.71 607.1,458.69 607.35,458.67 607.6,458.65 607.85,458.62 608.1,458.6 608.35,458.57 608.6,458.54 608.85,458.5 609.1,458.45 609.35,458.4 609.6,458.34 609.85,458.29 610.1,458.25 610.35,458.22 610.6,458.18 610.85,458.15 611.1,458.11 611.35,458.08 611.6,458.04 611.85,458.01 612.1,457.97 612.35,457.93 612.6,457.88 612.85,457.84 613.1,457.79 613.35,457.74 613.6,457.69 613.85,457.63 614.1,457.57 614.35,457.5 614.6,457.42 614.85,457.34 615.1,457.25 615.35,457.15 615.6,457.03 615.85,456.9 616.1,456.74 616.35,456.54 616.6,456.27 616.85,455.91 617.1,455.41 617.35,454.7 617.6,453.74 617.85,452.48 618.1,450.92 618.35,449.1 618.6,447.17 618.85,445.31 619.1,443.67 619.35,442.32 619.6,441.26 619.85,440.45 620.1,439.83 620.35,439.36 620.6,438.97 620.85,438.62 621.1,438.29 621.35,437.95 621.6,437.58 621.85,437.14 622.1,436.59 622.35,435.86 622.6,434.85 622.85,433.43 623.1,431.46 623.35,428.83 623.6,425.47 623.85,421.46 624.1,417.04 624.35,412.62 624.6,408.61 624.85,405.26 625.1,402.62 625.35,400.66 625.6,399.23 625.85,398.21 626.1,397.47 626.35,396.9 626.6,396.44 626.85,396.04 627.1,395.66 627.35,395.28 627.6,394.87 627.85,394.38 628.1,393.77 628.35,392.96 628.6,391.87 628.85,390.41 629.1,388.55 629.35,386.27 629.6,383.69 629.85,381.01 630.1,378.49 630.35,376.32 630.6,374.58 630.85,373.25 631.1,372.29 631.35,371.61 631.6,371.12 631.85,370.77 632.1,370.5 632.35,370.29 632.6,370.12 632.85,369.97 633.1,369.85 633.35,369.73 633.6,369.63 633.85,369.54 634.1,369.45 634.35,369.38 634.6,369.3 634.85,369.24 635.1,369.18 635.35,369.12 635.6,369.07 635.85,369.02 636.1,368.97 636.35,368.92 636.6,368.88 636.85,368.84 637.1,368.8 637.35,368.76 637.6,368.72 637.85,368.68 638.1,368.63 638.35,368.58 638.6,368.52 638.85,368.46 639.1,368.41 639.35,368.37 639.6,368.33 639.85,368.3 640.1,368.27 640.35,368.24 640.6,368.22 640.85,368.2 641.1,368.17 641.35,368.15 641.6,368.13 641.85,368.12 642.1,368.1 642.35,368.08 642.6,368.06 642.85,368.04 643.1,368.03 643.35,368.01 643.6,367.99 643.85,367.97 644.1,367.94 644.35,367.91 644.6,367.88 644.85,367.85 645.1,367.83 645.35,367.81 645.6,367.79 645.85,367.78 646.1,367.76 646.35,367.75 646.6,367.74 646.85,367.73 647.1,367.72 647.35,367.71 647.6,367.7 647.85,367.69 648.1,367.68 648.35,367.67 648.6,367.66 648.85,367.65 649.1,367.65 649.35,367.64 649.6,367.63 649.85,367.62 650.1,367.62 650.35,367.61 650.6,367.6 650.85,367.59 651.1,367.59 651.35,367.58 651.6,367.57 651.85,367.57 652.1,367.56 652.35,367.56 652.6,367.55 652.85,367.54 653.1,367.54 653.35,367.53 653.6,367.53 653.85,367.52 654.1,367.52 654.35,367.51 654.6,367.51 654.85,367.5" stroke="#008000" stroke-width="1.15" stroke-linejoin="round"/>
<path d="M594.4,626.9H654.6" stroke="#6cb86c" stroke-width="2"/>
<path d="M594.4,623.8v6.4M654.6,623.8v6.4" stroke="#008000" stroke-width="1"/>
<path d="M624.5,627v7.5" stroke="#000080" stroke-width="1.1"/>
<path d="M755.9,459.4 756.15,459.39 756.4,459.39 756.65,459.38 756.9,459.37 757.15,459.36 757.4,459.35 757.65,459.35 757.9,459.34 758.15,459.33 758.4,459.32 758.65,459.31 758.9,459.3 759.15,459.29 759.4,459.28 759.65,459.27 759.9,459.26 760.15,459.25 760.4,459.24 760.65,459.23 760.9,459.22 761.15,459.21 761.4,459.2 761.65,459.18 761.9,459.17 762.15,459.16 762.4,459.14 762.65,459.13 762.9,459.11 763.15,459.1 763.4,459.08 763.65,459.06 763.9,459.04 764.15,459.03 764.4,459 764.65,458.98 764.9,458.96 765.15,458.93 765.4,458.9 765.65,458.87 765.9,458.83 766.15,458.78 766.4,458.72 766.65,458.65 766.9,458.55 767.15,458.41 767.4,458.22 767.65,458.01 767.9,457.81 768.15,457.62 768.4,457.41 768.65,457.19 768.9,456.99 769.15,456.84 769.4,456.73 769.65,456.64 769.9,456.56 770.15,456.49 770.4,456.43 770.65,456.36 770.9,456.28 771.15,456.21 771.4,456.12 771.65,456.02 771.9,455.9 772.15,455.76 772.4,455.56 772.65,455.29 772.9,454.93 773.15,454.55 773.4,454.18 773.65,453.83 773.9,453.45 774.15,452.99 774.4,452.44 774.65,451.83 774.9,451.22 775.15,450.64 775.4,450.03 775.65,449.36 775.9,448.62 776.15,447.77 776.4,446.91 776.65,446.15 776.9,445.57 777.15,445.12 777.4,444.77 777.65,444.47 777.9,444.19 778.15,443.9 778.4,443.58 778.65,443.25 778.9,442.93 779.15,442.6 779.4,442.23 779.65,441.77 779.9,441.16 780.15,440.43 780.4,439.65 780.65,438.87 780.9,437.98 781.15,436.88 781.4,435.59 781.65,434.13 781.9,432.61 782.15,431.09 782.4,429.62 782.65,428.27 782.9,427.05 783.15,425.96 783.4,424.98 783.65,424.03 783.9,423.01 784.15,421.92 784.4,420.86 784.65,419.92 784.9,419.15 785.15,418.51 785.4,417.96 785.65,417.43 785.9,416.92 786.15,416.44 786.4,415.93 786.65,415.34 786.9,414.61 787.15,413.75 787.4,412.84 787.65,411.88 787.9,410.77 788.15,409.5 788.4,408.15 788.65,406.8 788.9,405.5 789.15,404.22 789.4,402.8 789.65,401.1 789.9,399.21 790.15,397.4 790.4,395.91 790.65,394.72 790.9,393.74 791.15,392.93 791.4,392.24 791.65,391.64 791.9,391.07 792.15,390.5 792.4,389.95 792.65,389.47 792.9,389.05 793.15,388.63 793.4,388.19 793.65,387.7 793.9,387.18 794.15,386.62 794.4,386.05 794.65,385.45 794.9,384.81 795.15,384.03 795.4,383.06 795.65,382.01 795.9,381.03 796.15,380.15 796.4,379.31 796.65,378.45 796.9,377.61 797.15,376.83 797.4,376.1 797.65,375.36 797.9,374.6 798.15,373.96 798.4,373.49 798.65,373.15 798.9,372.9 799.15,372.71 799.4,372.55 799.65,372.41 799.9,372.29 800.15,372.18 800.4,372.07 800.65,371.96 800.9,371.85 801.15,371.73 801.4,371.6 801.65,371.42 801.9,371.19 802.15,370.88 802.4,370.52 802.65,370.17 802.9,369.83 803.15,369.48 803.4,369.11 803.65,368.79 803.9,368.55 804.15,368.39 804.4,368.26 804.65,368.17 804.9,368.09 805.15,368.03 805.4,367.98 805.65,367.93 805.9,367.89 806.15,367.85 806.4,367.82 806.65,367.78 806.9,367.75 807.15,367.73 807.4,367.7 807.65,367.67 807.9,367.65 808.15,367.63 808.4,367.61 808.65,367.59 808.9,367.56 809.15,367.55 809.4,367.53 809.65,367.51 809.9,367.49 810.15,367.47 810.4,367.46 810.65,367.44 810.9,367.43 811.15,367.41 811.4,367.39 811.65,367.38 811.9,367.37 812.15,367.35 812.4,367.34 812.65,367.32 812.9,367.31 813.15,367.3 813.4,367.28 813.65,367.27 813.9,367.26 814.15,367.25 814.4,367.23 814.65,367.22 814.9,367.21" stroke="#008000" stroke-width="1.15" stroke-linejoin="round"/>
<path d="M756.2,626.9H814.8" stroke="#6cb86c" stroke-width="2"/>
<path d="M756.2,623.8v6.4M814.8,623.8v6.4" stroke="#008000" stroke-width="1"/>
<path d="M785.3,627v7.5" stroke="#000080" stroke-width="1.1"/>
<path d="M834.3,459.5 834.55,459.48 834.8,459.47 835.05,459.45 835.3,459.43 835.55,459.41 835.8,459.39 836.05,459.37 836.3,459.35 836.55,459.33 836.8,459.31 837.05,459.28 837.3,459.26 837.55,459.24 837.8,459.21 838.05,459.19 838.3,459.16 838.55,459.14 838.8,459.11 839.05,459.08 839.3,459.05 839.55,459.02 839.8,458.99 840.05,458.95 840.3,458.92 840.55,458.88 840.8,458.84 841.05,458.8 841.3,458.76 841.55,458.72 841.8,458.67 842.05,458.62 842.3,458.57 842.55,458.52 842.8,458.46 843.05,458.4 843.3,458.34 843.55,458.27 843.8,458.2 844.05,458.12 844.3,458.03 844.55,457.94 844.8,457.84 845.05,457.74 845.3,457.62 845.55,457.49 845.8,457.34 846.05,457.17 846.3,456.97 846.55,456.72 846.8,456.41 847.05,456 847.3,455.45 847.55,454.71 847.8,453.71 848.05,452.4 848.3,450.71 848.55,448.59 848.8,446.04 849.05,443.08 849.3,439.82 849.55,436.41 849.8,433.03 850.05,429.87 850.3,427.06 850.55,424.66 850.8,422.69 851.05,421.12 851.3,419.9 851.55,418.96 851.8,418.24 852.05,417.68 852.3,417.23 852.55,416.85 852.8,416.51 853.05,416.19 853.3,415.88 853.55,415.57 853.8,415.24 854.05,414.87 854.3,414.44 854.55,413.92 854.8,413.27 855.05,412.41 855.3,411.27 855.55,409.74 855.8,407.72 856.05,405.11 856.3,401.83 856.55,397.84 856.8,393.19 857.05,388.01 857.3,382.53 857.55,377.05 857.8,371.87 858.05,367.23 858.3,363.26 858.55,359.99 858.8,357.39 859.05,355.39 859.3,353.88 859.55,352.75 859.8,351.92 860.05,351.28 860.3,350.79 860.55,350.39 860.8,350.06 861.05,349.76 861.3,349.49 861.55,349.23 861.8,348.98 862.05,348.72 862.3,348.44 862.55,348.13 862.8,347.76 863.05,347.31 863.3,346.74 863.55,346 863.8,345.07 864.05,343.9 864.3,342.49 864.55,340.82 864.8,338.93 865.05,336.9 865.3,334.82 865.55,332.82 865.8,330.99 866.05,329.39 866.3,328.06 866.55,326.98 866.8,326.13 867.05,325.49 867.3,325 867.55,324.64 867.8,324.36 868.05,324.15 868.3,323.98 868.55,323.85 868.8,323.73 869.05,323.62 869.3,323.53 869.55,323.45 869.8,323.37 870.05,323.3 870.3,323.24 870.55,323.18 870.8,323.12 871.05,323.07 871.3,323.02 871.55,322.97 871.8,322.93 872.05,322.88 872.3,322.84 872.55,322.8 872.8,322.77 873.05,322.73 873.3,322.7 873.55,322.67 873.8,322.64 874.05,322.61 874.3,322.58 874.55,322.55 874.8,322.53 875.05,322.5 875.3,322.48 875.55,322.46 875.8,322.43 876.05,322.41 876.3,322.39 876.55,322.37 876.8,322.35 877.05,322.33 877.3,322.31 877.55,322.3 877.8,322.28 878.05,322.26 878.3,322.25 878.55,322.23 878.8,322.21 879.05,322.2 879.3,322.19 879.55,322.17 879.8,322.16 880.05,322.14 880.3,322.13 880.55,322.12 880.8,322.1 881.05,322.09 881.3,322.08 881.55,322.07 881.8,322.06 882.05,322.04 882.3,322.03 882.55,322.02 882.8,322.01 883.05,322" stroke="#008000" stroke-width="1.15" stroke-linejoin="round"/>
<path d="M834.6,626.9H882.8" stroke="#6cb86c" stroke-width="2"/>
<path d="M834.6,623.8v6.4M882.8,623.8v6.4" stroke="#008000" stroke-width="1"/>
<path d="M858.4,627v7.5" stroke="#000080" stroke-width="1.1"/>
</g>
<rect x="779" y="390" width="22" height="51.5" fill="#fff" fill-opacity="0.6"/>
<g id="labels">
<text transform="translate(622.31,161.04) rotate(0.05) scale(1.03,1)" font-family="DejaVu Sans, Liberation Sans, sans-serif" font-size="24.00" fill="#ff0000" stroke="#ff0000" stroke-width="0.2">5</text>
<text transform="translate(618.59,193.76) rotate(0.05) scale(1.03,1)" font-family="DejaVu Sans, Liberation Sans, sans-serif" font-size="24.00" fill="#ff0000" stroke="#ff0000" stroke-width="0.2">6</text>
<text transform="translate(853.01,119.31) rotate(0.05) scale(1.03,1)" font-family="DejaVu Sans, Liberation Sans, sans-serif" font-size="24.00" fill="#ff0000" stroke="#ff0000" stroke-width="0.2">4</text>
<text transform="translate(238.54,320.86) rotate(0.05) scale(1.03,1)" font-family="DejaVu Sans, Liberation Sans, sans-serif" font-size="24.00" fill="#ff0000" stroke="#ff0000" stroke-width="0.2">8</text>
<text transform="translate(247.61,352.91) rotate(0.05) scale(1.03,1)" font-family="DejaVu Sans, Liberation Sans, sans-serif" font-size="24.00" fill="#ff0000" stroke="#ff0000" stroke-width="0.2">7</text>
<text transform="translate(781.39,407.96) rotate(0.05) scale(1.03,1)" font-family="DejaVu Sans, Liberation Sans, sans-serif" font-size="24.00" fill="#ff0000" stroke="#ff0000" stroke-width="0.2">8</text>
<text transform="translate(782.76,439.96) rotate(0.05) scale(1.03,1)" font-family="DejaVu Sans, Liberation Sans, sans-serif" font-size="24.00" fill="#ff0000" stroke="#ff0000" stroke-width="0.2">7</text>
<text transform="translate(628.12,669.99) rotate(-89.95) scale(1,1.03)" font-family="DejaVu Sans, Liberation Sans, sans-serif" font-size="16.40" fill="#000080" stroke="#000080" stroke-width="0.2">2.00</text>
<text transform="translate(789.07,669.99) rotate(-89.95) scale(1,1.03)" font-family="DejaVu Sans, Liberation Sans, sans-serif" font-size="16.40" fill="#000080" stroke="#000080" stroke-width="0.2">2.00</text>
<text transform="translate(862.17,669.84) rotate(-89.95) scale(1,1.03)" font-family="DejaVu Sans, Liberation Sans, sans-serif" font-size="16.40" fill="#000080" stroke="#000080" stroke-width="0.2">2.99</text>
<text transform="translate(128.72,47.92) rotate(0.05) scale(1.07,1)" font-family="Liberation Sans, sans-serif" font-size="22.80" fill="#000000">H</text>
<text transform="translate(131.58,68.84) rotate(0.05) scale(1.02,1)" font-family="Liberation Sans, sans-serif" font-size="17.90" fill="#ff0000">5</text>
<text transform="translate(128.09,137.41) rotate(0.05) scale(1.02,1)" font-family="Liberation Sans, sans-serif" font-size="17.90" fill="#ff0000">2,</text>
<text transform="translate(33.01,168.99) rotate(0.05) scale(1.07,1)" font-family="Liberation Sans, sans-serif" font-size="22.80" fill="#000000" letter-spacing="1.1">Cl</text>
<text transform="translate(35.96,189.53) rotate(0.05) scale(1.02,1)" font-family="Liberation Sans, sans-serif" font-size="17.90" fill="#ff0000" letter-spacing="-0.7">1,</text>
<text transform="translate(128.77,224.12) rotate(0.05) scale(1.07,1)" font-family="Liberation Sans, sans-serif" font-size="22.80" fill="#000000">H</text>
<text transform="translate(128.24,244.43) rotate(0.05) scale(1.02,1)" font-family="Liberation Sans, sans-serif" font-size="17.90" fill="#ff0000">6,</text>
<text transform="translate(213.08,182.83) rotate(0.05) scale(1.02,1)" font-family="Liberation Sans, sans-serif" font-size="17.90" fill="#ff0000">3,</text>
<text transform="translate(213.47,111.27) rotate(0.05) scale(1.07,1)" font-family="Liberation Sans, sans-serif" font-size="22.80" fill="#000000">H</text>
<text transform="translate(213.04,132.28) rotate(0.05) scale(1.02,1)" font-family="Liberation Sans, sans-serif" font-size="17.90" fill="#ff0000">7,</text>
<text transform="translate(213.62,269.37) rotate(0.05) scale(1.07,1)" font-family="Liberation Sans, sans-serif" font-size="22.80" fill="#000000">H</text>
<text transform="translate(213.03,290.03) rotate(0.05) scale(1.02,1)" font-family="Liberation Sans, sans-serif" font-size="17.90" fill="#ff0000">8,</text>
<text transform="translate(311.52,144.87) rotate(0.05) scale(1.1,1)" font-family="Liberation Sans, sans-serif" font-size="22.80" fill="#000000">CH<tspan dx="-1.8" dy="7.05" font-size="18">3</tspan></text>
<text transform="translate(312.01,165.73) rotate(0.05) scale(1.02,1)" font-family="Liberation Sans, sans-serif" font-size="17.90" fill="#ff0000">4,</text>
<text transform="translate(501.79,749.30) rotate(0.05) scale(1.135,1)" font-family="Liberation Serif, serif" font-size="24.10" fill="#000000">f1 (ppm)</text>
<text transform="translate(200.69,581.80) rotate(0.05) scale(1.135,1)" font-family="Liberation Serif, serif" font-size="24.10" fill="#000000">f1 (ppm)</text>
<text transform="translate(4.48,723.75) rotate(0.05) scale(1.085,1)" font-family="Liberation Serif, serif" font-size="24.60" fill="#000000" text-anchor="middle">10.0</text>
<text transform="translate(99.10,723.75) rotate(0.05) scale(1.085,1)" font-family="Liberation Serif, serif" font-size="24.60" fill="#000000" text-anchor="middle">9.0</text>
<text transform="translate(193.72,723.75) rotate(0.05) scale(1.085,1)" font-family="Liberation Serif, serif" font-size="24.60" fill="#000000" text-anchor="middle">8.0</text>
<text transform="translate(288.34,723.75) rotate(0.05) scale(1.085,1)" font-family="Liberation Serif, serif" font-size="24.60" fill="#000000" text-anchor="middle">7.0</text>
<text transform="translate(382.96,723.75) rotate(0.05) scale(1.085,1)" font-family="Liberation Serif, serif" font-size="24.60" fill="#000000" text-anchor="middle">6.0</text>
<text transform="translate(477.58,723.75) rotate(0.05) scale(1.085,1)" font-family="Liberation Serif, serif" font-size="24.60" fill="#000000" text-anchor="middle">5.0</text>
<text transform="translate(572.20,723.75) rotate(0.05) scale(1.085,1)" font-family="Liberation Serif, serif" font-size="24.60" fill="#000000" text-anchor="middle">4.0</text>
<text transform="translate(666.82,723.75) rotate(0.05) scale(1.085,1)" font-family="Liberation Serif, serif" font-size="24.60" fill="#000000" text-anchor="middle">3.0</text>
<text transform="translate(761.44,723.75) rotate(0.05) scale(1.085,1)" font-family="Liberation Serif, serif" font-size="24.60" fill="#000000" text-anchor="middle">2.0</text>
<text transform="translate(856.06,723.75) rotate(0.05) scale(1.085,1)" font-family="Liberation Serif, serif" font-size="24.60" fill="#000000" text-anchor="middle">1.0</text>
<text transform="translate(950.68,723.75) rotate(0.05) scale(1.085,1)" font-family="Liberation Serif, serif" font-size="24.60" fill="#000000" text-anchor="middle">0.0</text>
<text transform="translate(1045.30,723.75) rotate(0.05) scale(1.085,1)" font-family="Liberation Serif, serif" font-size="24.60" fill="#000000" text-anchor="middle">-1.0</text>
<text transform="translate(45.90,556.30) rotate(0.05) scale(1.085,1)" font-family="Liberation Serif, serif" font-size="24.60" fill="#000000" text-anchor="middle">2.0</text>
<text transform="translate(113.50,556.30) rotate(0.05) scale(1.085,1)" font-family="Liberation Serif, serif" font-size="24.60" fill="#000000" text-anchor="middle">1.9</text>
<text transform="translate(181.10,556.30) rotate(0.05) scale(1.085,1)" font-family="Liberation Serif, serif" font-size="24.60" fill="#000000" text-anchor="middle">1.8</text>
<text transform="translate(248.70,556.30) rotate(0.05) scale(1.085,1)" font-family="Liberation Serif, serif" font-size="24.60" fill="#000000" text-anchor="middle">1.7</text>
<text transform="translate(316.30,556.30) rotate(0.05) scale(1.085,1)" font-family="Liberation Serif, serif" font-size="24.60" fill="#000000" text-anchor="middle">1.6</text>
<text transform="translate(383.90,556.30) rotate(0.05) scale(1.085,1)" font-family="Liberation Serif, serif" font-size="24.60" fill="#000000" text-anchor="middle">1.5</text>
<text transform="translate(451.50,556.30) rotate(0.05) scale(1.085,1)" font-family="Liberation Serif, serif" font-size="24.60" fill="#000000" text-anchor="middle">1.4</text>
</g>
<path d="M36,187.9h4.5v2.4h-4.5zM42.1,187.9h3.9v2.4h-3.9z" fill="#fff"/>
</svg>
</body></html>
